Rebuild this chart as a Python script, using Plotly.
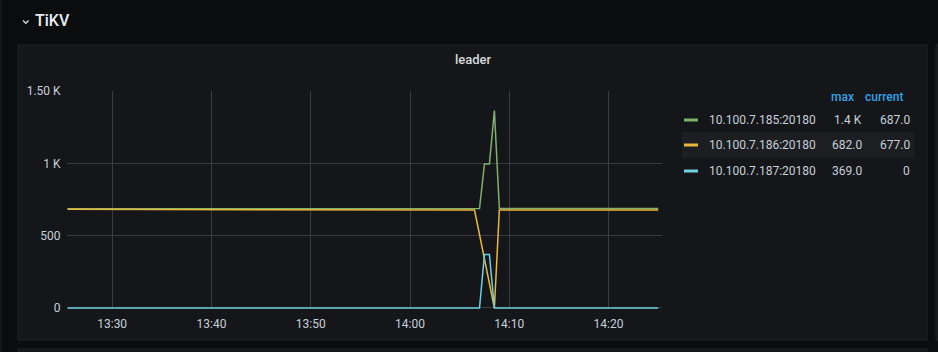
import plotly.graph_objects as go

# ---------------- data ----------------
DAY = "2019-09-06 "
times = ["13:25:30", "14:00:30", "14:01:00", "14:06:30", "14:07:00",
         "14:07:30", "14:08:00", "14:08:30", "14:09:00", "14:25:00"]
green_185 = [686, 686, 687, 687, 687, 996, 996, 1365, 687, 687]
yellow_186 = [682, 682, 677, 677, 508, 339, 169, 0, 677, 677]
cyan_187 = [0, 0, 0, 0, 0, 369, 369, 0, 0, 0]

series_names = ["10.100.7.185:20180", "10.100.7.186:20180", "10.100.7.187:20180"]
series_colors = ["#7eb26d", "#eab839", "#6ed0e0"]
legend_max = ["1.4 K", "682.0", "369.0"]
legend_current = ["687.0", "677.0", "0"]

x_tick_times = ["13:30", "13:40", "13:50", "14:00", "14:10", "14:20"]
y_tick_vals = [0, 500, 1000, 1500]
y_tick_text = ["0", "500", "1 K", "1.50 K"]

panel_title = "leader"
row_title = "TiKV"

# ---------------- layout geometry (pixels) ----------------
W, H = 938, 352
PL, PR, PT, PB = 67, 662, 91, 309  # plot area edges (0 sits 1px above bottom)


def px(x):
    return (x - PL) / (PR - PL)


def py(y):
    return (PB - y) / (PB - PT)


FONT = "Roboto"
TEXT = "#c7d0d9"

fig = go.Figure()
t = [DAY + s for s in times]
for vals, name, col in zip([green_185, yellow_186, cyan_187], series_names, series_colors):
    fig.add_trace(go.Scatter(x=t, y=vals, mode="lines", name=name,
                             line=dict(color=col, width=1.5), showlegend=False,
                             hoverinfo="skip"))

shapes = []
# page strip on far left
shapes.append(dict(type="rect", xref="paper", yref="paper", x0=px(0), x1=px(2), y0=py(H), y1=py(0),
                   fillcolor="#141619", line=dict(width=0), layer="below"))
# main panel
shapes.append(dict(type="rect", xref="paper", yref="paper", x0=px(18), x1=px(927), y0=py(340), y1=py(45),
                   fillcolor="#141619", line=dict(color="#202226", width=1), layer="below"))
# right neighbour panel
shapes.append(dict(type="rect", xref="paper", yref="paper", x0=px(936), x1=px(945), y0=py(340), y1=py(45),
                   fillcolor="#141619", line=dict(color="#202226", width=1), layer="below"))
# bottom neighbour panel
shapes.append(dict(type="rect", xref="paper", yref="paper", x0=px(18), x1=px(927), y0=py(360), y1=py(349),
                   fillcolor="#141619", line=dict(color="#202226", width=1), layer="below"))
# highlighted legend row
shapes.append(dict(type="rect", xref="paper", yref="paper", x0=px(682), x1=px(914), y0=py(158), y1=py(132),
                   fillcolor="#1c1e22", line=dict(width=0), layer="below"))
# chevron next to row title
shapes.append(dict(type="path", xref="paper", yref="paper",
                   path="M %f %f L %f %f L %f %f" % (px(23), py(20.5), px(25.8), py(23.3), px(28.6), py(20.5)),
                   line=dict(color="#d8d9da", width=1.3)))

annotations = []
annotations.append(dict(text=row_title, xref="paper", yref="paper", x=px(33), y=py(21), xanchor="left",
                        yanchor="middle", showarrow=False,
                        font=dict(family=FONT, size=16, color="#e9edf2", weight=500)))
annotations.append(dict(text=panel_title, xref="paper", yref="paper", x=px(473), y=py(59), xanchor="center",
                        yanchor="middle", showarrow=False,
                        font=dict(family=FONT, size=13, color="#d8d9da", weight=500)))
# legend header
annotations.append(dict(text="max", xref="paper", yref="paper", x=px(856), y=py(97), xanchor="right",
                        yanchor="middle", showarrow=False,
                        font=dict(family=FONT, size=12, color="#33a2e5", weight=500)))
annotations.append(dict(text="current", xref="paper", yref="paper", x=px(905), y=py(97), xanchor="right",
                        yanchor="middle", showarrow=False,
                        font=dict(family=FONT, size=12, color="#33a2e5", weight=500)))
row_y = [120, 145, 171]
for i in range(3):
    yy = row_y[i]
    shapes.append(dict(type="rect", xref="paper", yref="paper", x0=px(684), x1=px(698),
                       y0=py(yy + 1.5), y1=py(yy - 1.5), fillcolor=series_colors[i], line=dict(width=0)))
    annotations.append(dict(text=series_names[i], xref="paper", yref="paper", x=px(707), y=py(yy),
                            xanchor="left", yanchor="middle", showarrow=False,
                            font=dict(family=FONT, size=12, color=TEXT)))
    annotations.append(dict(text=legend_max[i], xref="paper", yref="paper", x=px(864), y=py(yy),
                            xanchor="right", yanchor="middle", showarrow=False,
                            font=dict(family=FONT, size=12, color=TEXT)))
    annotations.append(dict(text=legend_current[i], xref="paper", yref="paper", x=px(912), y=py(yy),
                            xanchor="right", yanchor="middle", showarrow=False,
                            font=dict(family=FONT, size=12, color=TEXT)))

GRID = "#3a3c41"
fig.update_layout(
    width=W, height=H,
    margin=dict(l=PL, r=W - PR, t=PT, b=H - PB, pad=0),
    paper_bgcolor="#0b0c0e",
    plot_bgcolor="rgba(0,0,0,0)",
    shapes=shapes,
    annotations=annotations,
    showlegend=False,
    xaxis=dict(type="date", range=[DAY + "13:25:27", DAY + "14:25:23"],
               tickvals=[DAY + s for s in x_tick_times], ticktext=x_tick_times,
               showgrid=True, gridcolor=GRID, gridwidth=1, zeroline=False, showline=False,
               ticks="outside", ticklen=4, tickcolor="rgba(0,0,0,0)",
               tickfont=dict(family=FONT, size=12, color=TEXT), fixedrange=True),
    yaxis=dict(range=[-7, 1500], tickvals=y_tick_vals, ticktext=y_tick_text,
               showgrid=True, gridcolor=GRID, gridwidth=1, zeroline=False, showline=False,
               ticks="outside", ticklen=3, tickcolor="rgba(0,0,0,0)",
               tickfont=dict(family=FONT, size=12, color=TEXT), fixedrange=True),
)

fig.write_html("out.html", config={"displayModeBar": False})
